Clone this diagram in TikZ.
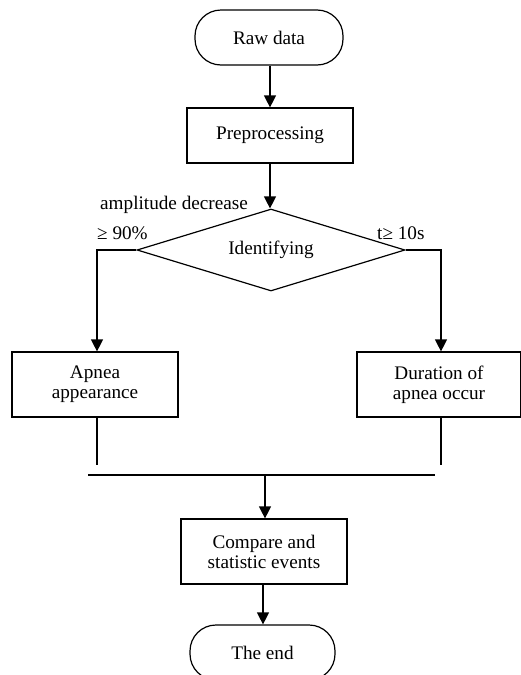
\documentclass[tikz,border=0pt]{standalone}
\usepackage{fontspec}
\setmainfont{Liberation Serif}
\usetikzlibrary{shapes.geometric,arrows.meta}
\begin{document}
\begin{tikzpicture}[x=1pt,y=-1pt,
  every node/.style={font=\fontsize{19.2}{20}\selectfont, inner sep=0pt, align=center},
  procbox/.style={draw, line width=1.2pt, minimum width=166pt, minimum height=55pt},
  termbox/.style={draw, line width=1.2pt, rounded corners=26pt, minimum width=148pt, minimum height=55pt},
  decbox/.style={draw, line width=1.2pt, diamond, aspect=3.27, minimum width=268pt, minimum height=82pt},
  flow/.style={line width=1.2pt, -{Triangle[width=12pt,length=12pt]}},
  plain/.style={line width=1.2pt}]
\useasboundingbox (0,0) rectangle (520,675);
\node[termbox] (raw) at (269,37.5) {Raw data};
\node[procbox] (pre) at (270,135.5) {Preprocessing};
\node[decbox] (id) at (271,250) {Identifying};
\node[procbox, minimum height=65pt] (apnea) at (95,384.5) {Apnea\\appearance};
\node[procbox, minimum width=164pt, minimum height=65pt] (dur) at (439,384.5) {Duration of\\apnea occur};
\node[procbox, minimum height=65pt] (cmp) at (264,551.5) {Compare and\\statistic events};
\node[termbox, minimum width=145pt] (end) at (262.5,652.5) {The end};
\node[anchor=south west] (lab1) at (100,214) {amplitude decrease};
\node[anchor=south west] (lab2) at (97,240) {≥ 90\%};
\node[anchor=south west] (lab3) at (377,240) {t≥ 10s};
\coordinate (lb) at (97,465);
\coordinate (rb) at (441,465);
\coordinate (hl) at (88,475);
\coordinate (hr) at (435,475);
\coordinate (hm) at (265,475);
\draw[flow] (raw.south -| 270,0) -- (pre.north -| 270,0);
\draw[flow] (pre.south -| 270,0) -- (id.north -| 270,0);
\draw[flow] (id.west) -- (97,250) -- (apnea.north -| 97,0);
\draw[flow] (id.east) -- (441,250) -- (dur.north -| 441,0);
\draw[plain] (apnea.south -| lb) -- (lb);
\draw[plain] (dur.south -| rb) -- (rb);
\draw[plain] (hl) -- (hr);
\draw[flow] (hm) -- (cmp.north -| hm);
\draw[flow] (cmp.south -| 263,0) -- (end.north -| 263,0);
\end{tikzpicture}
\end{document}
